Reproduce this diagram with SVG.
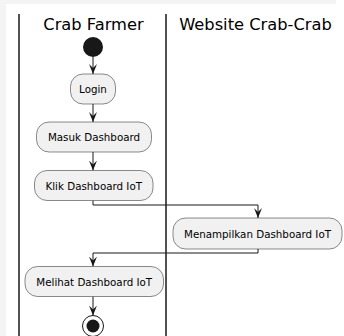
<svg xmlns="http://www.w3.org/2000/svg" width="344" height="336" viewBox="0 0 344 336">
<defs>
<style>
.lane{stroke:#181818;stroke-width:1.5;fill:none}
.title{font-family:"DejaVu Sans",sans-serif;font-size:16.3px;fill:#000;text-anchor:middle}
.box{fill:#F1F1F1;stroke:#181818;stroke-width:0.5}
.lbl{font-family:"DejaVu Sans",sans-serif;font-size:10.3px;fill:#000;text-anchor:middle}
.edge{stroke:#181818;stroke-width:1;fill:none}
</style>
<marker id="arr" viewBox="0 0 10 10" refX="10" refY="5" markerWidth="10" markerHeight="10" markerUnits="userSpaceOnUse" orient="auto">
<path d="M0,1 L10,5 L0,9 L4,5 Z" fill="#181818"/>
</marker>
</defs>
<rect width="344" height="336" fill="#F4F4F4"/>
<rect x="6" y="4" width="338" height="332" fill="#FFFFFF"/>
<rect x="336" y="0" width="8" height="4" fill="#FFFFFF"/>
<g id="lanes">
<line class="lane" x1="19" y1="14" x2="19" y2="336"/>
<line class="lane" x1="166" y1="14" x2="166" y2="336"/>
<text class="title" x="93.5" y="30">Crab Farmer</text>
<text class="title" x="255.5" y="30">Website Crab-Crab</text>
</g>
<g id="connectors">
<path class="edge" d="M93,57 L93,74" marker-end="url(#arr)"/>
<path class="edge" d="M93,104 L93,122" marker-end="url(#arr)"/>
<path class="edge" d="M93,152 L93,170.5" marker-end="url(#arr)"/>
<path class="edge" d="M93,200.5 L93,205 L258,205 L258,218" marker-end="url(#arr)"/>
<path class="edge" d="M258,249 L258,253 L93,253 L93,266.5" marker-end="url(#arr)"/>
<path class="edge" d="M93,296.5 L93,315.5" marker-end="url(#arr)"/>
</g>
<g id="start"><circle cx="93" cy="47" r="10" fill="#181818"/></g>
<g id="login"><rect class="box" x="70.5" y="74" width="45" height="30" rx="12.5"/><text class="lbl" x="93" y="93">Login</text></g>
<g id="masuk"><rect class="box" x="36.5" y="122" width="115" height="30" rx="12.5"/><text class="lbl" x="94" y="141">Masuk Dashboard</text></g>
<g id="klik"><rect class="box" x="34.5" y="170.5" width="118.5" height="30" rx="12.5"/><text class="lbl" x="93.75" y="189.5">Klik Dashboard IoT</text></g>
<g id="menampilkan"><rect class="box" x="173" y="218" width="169" height="31" rx="12.5"/><text class="lbl" x="257.5" y="237.5">Menampilkan Dashboard IoT</text></g>
<g id="melihat"><rect class="box" x="25" y="266.5" width="138.5" height="30" rx="12.5"/><text class="lbl" x="94.25" y="285.5">Melihat Dashboard IoT</text></g>
<g id="end"><circle cx="93" cy="326" r="10.5" fill="none" stroke="#181818" stroke-width="1"/><circle cx="93" cy="326" r="6.5" fill="#181818"/></g>
</svg>
